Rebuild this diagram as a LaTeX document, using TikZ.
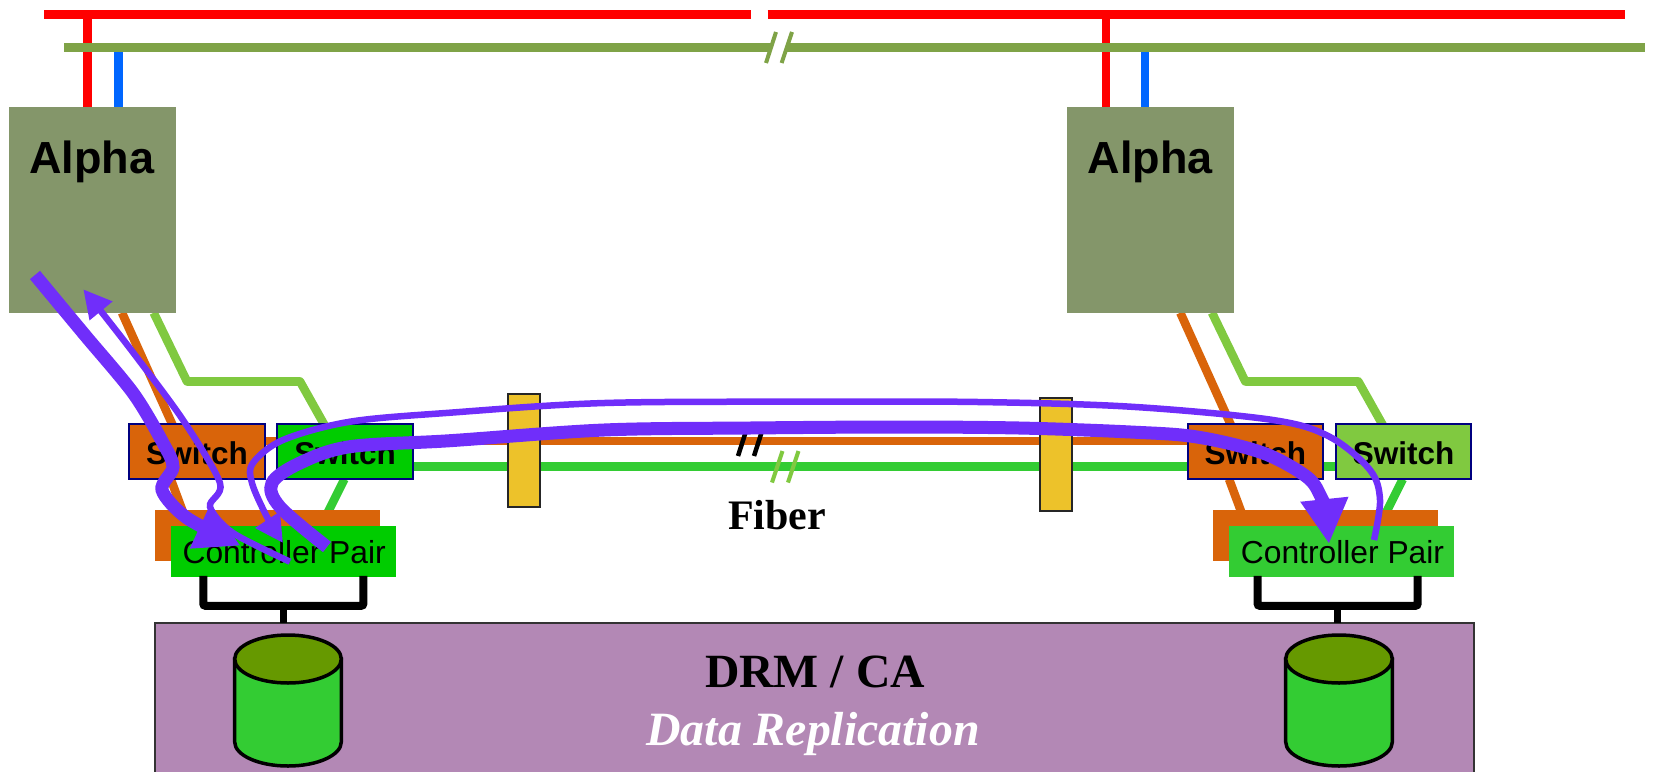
\documentclass[tikz,border=0pt]{standalone}
\usepackage{fontspec}
\setmainfont{Liberation Serif}
\setsansfont{Liberation Sans}
\usetikzlibrary{arrows.meta,calc}
\definecolor{busred}{HTML}{FF0000}
\definecolor{busolive}{HTML}{7FA347}
\definecolor{busblue}{HTML}{0066FF}
\definecolor{alphagrey}{HTML}{84966A}
\definecolor{linkorange}{HTML}{D9640A}
\definecolor{lightgreen}{HTML}{80C940}
\definecolor{midgreen}{HTML}{33CC33}
\definecolor{puregreen}{HTML}{00CC00}
\definecolor{navyedge}{HTML}{000080}
\definecolor{gateyellow}{HTML}{EDC22A}
\definecolor{drmpurple}{HTML}{B388B5}
\definecolor{diskolive}{HTML}{669900}
\definecolor{flowpurple}{HTML}{702EFA}
\pgfdeclarelayer{back}
\pgfsetlayers{back,main}
\tikzset{
  x=1pt,y=-1pt,
  alphabox/.style={fill=alphagrey,draw=none,inner sep=0pt,outer sep=0pt,minimum width=167pt,minimum height=205.5pt},
  alphatext/.style={font=\sffamily\bfseries\fontsize{45}{45}\selectfont,anchor=base,inner sep=0pt},
  switchbox/.style={draw=navyedge,line width=2pt,inner sep=0pt,outer sep=0pt,minimum width=135.5pt,minimum height=55pt},
  pairbox/.style={inner sep=0pt,outer sep=0pt,minimum width=225pt,minimum height=50.7pt},
  backplate/.style={fill=linkorange,inner sep=0pt,outer sep=0pt,minimum width=225pt,minimum height=50.7pt},
  gatebox/.style={fill=gateyellow,draw=black!85,line width=2pt,inner sep=0pt,outer sep=0pt,minimum width=32pt,minimum height=113pt},
  wire/.style={line width=8.6pt},
  busline/.style={line width=9pt},
  breakmark/.style={line width=4pt},
  bracket/.style={line width=8pt,black,rounded corners=2pt},
  serifbig/.style={font=\bfseries\fontsize{47.7}{48}\selectfont,anchor=base,inner sep=0pt},
  flowthick/.style={draw=flowpurple,line width=13pt},
  flowthin/.style={draw=flowpurple,line width=6.5pt},
  bighead/.style={-{Triangle[length=45pt,width=45pt,fill=flowpurple]}},
  smallhead/.style={-{Triangle[length=28pt,width=28pt,fill=flowpurple]}},
  diskbody/.style={fill=midgreen,draw=black,line width=3.5pt},
  disktop/.style={fill=diskolive,draw=black,line width=3.5pt},
  pairtext/.style={font=\sffamily\fontsize{31.8}{32}\selectfont,anchor=base,inner sep=0pt},
  switchtext/.style={font=\sffamily\bfseries\fontsize{31.5}{32}\selectfont,anchor=base,inner sep=0pt},
  stub/.style={line width=7.5pt,black},
}
\newcommand{\serverunit}[5]{%
  % #1 prefix, #2 x offset, #3 second switch colour, #4 controller colour, #5 bracket inset
  \node[alphabox] (#1alpha) at (92.2+#2,210) {};
  \node[alphatext] (#1alphat) at (92+#2,173) {Alpha};
  \node[backplate] (#1plate) at (267.5+#2,535.4) {};
  \node[pairbox,fill=#4] (#1pair) at (283.5+#2,551.4) {};
  \node[pairtext] (#1pairt) at (284.2+#2,563) {Controller Pair};
  \node[switchbox,fill=linkorange] (#1swa) at (197+#2,451.7) {};
  \node[switchtext] (#1swat) at (197+#2,464) {Switch};
  \node[switchbox,fill=#3] (#1swb) at (345.2+#2,451.7) {};
  \node[switchtext] (#1swbt) at (345.2+#2,464) {Switch};
  \begin{pgfonlayer}{back}
    \draw[wire,linkorange] ($(#1alpha.south west)+(113.3,0)$) -- ($(#1swa.north west)+(52,20)$);
    \draw[wire,linkorange] ($(#1swa.south west)+(41.5,0)$) -- ($(#1plate.north west)+(28,2)$);
    \draw[wire,lightgreen,line join=round] ($(#1alpha.south west)+(145,0)$) -- ($(#1alpha.south west)+(178.3,68.7)$) -- ($(#1alpha.south west)+(291.3,68.7)$) -- ($(#1swb.north west)+(55,15)$);
    \draw[wire,midgreen] ($(#1swb.south west)+(67,0)$) -- ($(#1plate.north west)+(173,2)$);
  \end{pgfonlayer}
  \coordinate (#1bra) at ($(#1pair.south west)+(#5,-1)$);
  \draw[bracket] (#1bra) -- ++(0,30) -- ++(160,0) -- ++(0,-30);
  \coordinate (#1stub) at ($(#1bra)+(80,29)$);
}
\begin{document}
\begin{tikzpicture}
\useasboundingbox (0,0) rectangle (1653,771);
\clip (0,0) rectangle (1653,771);

% purple storage box
\node[fill=drmpurple,draw=black!80,line width=2pt,inner sep=0pt,outer sep=0pt,minimum width=1318.4pt,minimum height=152pt] (drm) at (814.5,698.7) {};

% bus lines
\coordinate (redA) at (44,14);
\coordinate (redB) at (751,14);
\coordinate (redC) at (767.5,14);
\coordinate (redD) at (1625,14);
\coordinate (oliveA) at (64,47);
\coordinate (oliveB) at (1645,47);

\serverunit{L}{0}{puregreen}{puregreen}{32.3}
\serverunit{R}{1058.3}{lightgreen}{midgreen}{28.3}

% stubs from brackets to box
\draw[stub] (Lstub) -- (Lstub |- drm.north);
\draw[stub] (Rstub) -- (Rstub |- drm.north);

% disks
\foreach \cx in {288,1339}{
  \draw[diskbody] (\cx-53.3,659) -- (\cx-53.3,742) arc[start angle=180,end angle=0,x radius=53.3,y radius=24] -- (\cx+53.3,659) -- cycle;
  \draw[disktop] (\cx,659) ellipse[x radius=53.3,y radius=24];
}

\begin{pgfonlayer}{back}
  \draw[busline,busred] (redA) -- (redB);
  \draw[busline,busred] (redC) -- (redD);
  \draw[wire,busred] (87.3,14) -- (87.3,108);
  \draw[wire,busblue] (118.7,47) -- (118.7,108);
  \draw[wire,busred] (1106,14) -- (1106,108);
  \draw[wire,busblue] (1145,47) -- (1145,108);
  % fibre runs
  \draw[wire,linkorange] ($(Lswa.east)+(0,-10.7)$) -- ($(Rswa.west)+(0,-10.7)$);
  \draw[wire,midgreen] ($(Lswb.east)+(0,15)$) -- ($(Rswb.west)+(0,15)$);
\end{pgfonlayer}

% olive bus over the red drops
\draw[busline,busolive] (oliveA) -- (oliveB);
\fill[white] (766,63) -- (776,32) -- (792,32) -- (781.6,63) -- cycle;
\draw[breakmark,busolive] (766,63) -- (776,32);
\draw[breakmark,busolive] (781.6,63) -- (792,32);

% gates
\node[gatebox] (gateA) at (523.5,450) {};
\node[gatebox] (gateB) at (1055.7,454) {};

% break marks on the fibre
\draw[line width=4.5pt,black] (738,456) -- (747,428);
\draw[line width=4.5pt,black] (754,456) -- (763,428);
\draw[breakmark,lightgreen] (772,482.5) -- (782.5,451);
\draw[breakmark,lightgreen] (788,482.5) -- (798.5,451);

% texts
\node[serifbig,font=\bfseries\fontsize{42}{42}\selectfont] (fiber) at (777,529) {Fiber};
\node[serifbig] (drmt) at (815,687.3) {DRM / CA};
\node[serifbig,font=\bfseries\itshape\fontsize{47.8}{48}\selectfont,text=white] (datat) at (813,745) {Data Replication};

% purple flows
\coordinate (f1s) at (35,275);
\coordinate (f1e) at (240.7,545.7);
\draw[flowthick,bighead] plot[smooth,tension=0.5] coordinates {(f1s) (84,334) (133.3,393.3) (163,443) (173,467) (162,490) (187,518) (f1e)};
\coordinate (f2s) at (290,561.7);
\coordinate (f2e) at (83.3,289.3);
\draw[flowthin,smallhead] plot[smooth,tension=0.5] coordinates {(f2s) (233,533) (210,506.7) (220,483) (183,420) (135,355) (100,310) (f2e)};
\coordinate (f3s) at (327,547);
\coordinate (f3e) at (1329,544);
\draw[flowthick,bighead] plot[smooth,tension=0.55] coordinates {(f3s) (280,507) (272,483) (300,463) (350,446.7) (450,440.7) (604,430) (750,428) (895,427) (1019,428) (1130.6,432) (1197,437) (1263,453) (1307,477) (1321,497) (1325,510) (f3e)};
\coordinate (f4s) at (1374,540);
\coordinate (f4e) at (283,543);
\draw[flowthin,smallhead] plot[smooth,tension=0.55] coordinates {(f4s) (1380,500) (1370,470) (1330,437) (1273,420) (1130.6,406.7) (978,402) (812,401.7) (604.5,403) (450,412.7) (350,421.7) (283,440) (253,463) (252,483) (267,517) (f4e)};
\end{tikzpicture}
\end{document}
